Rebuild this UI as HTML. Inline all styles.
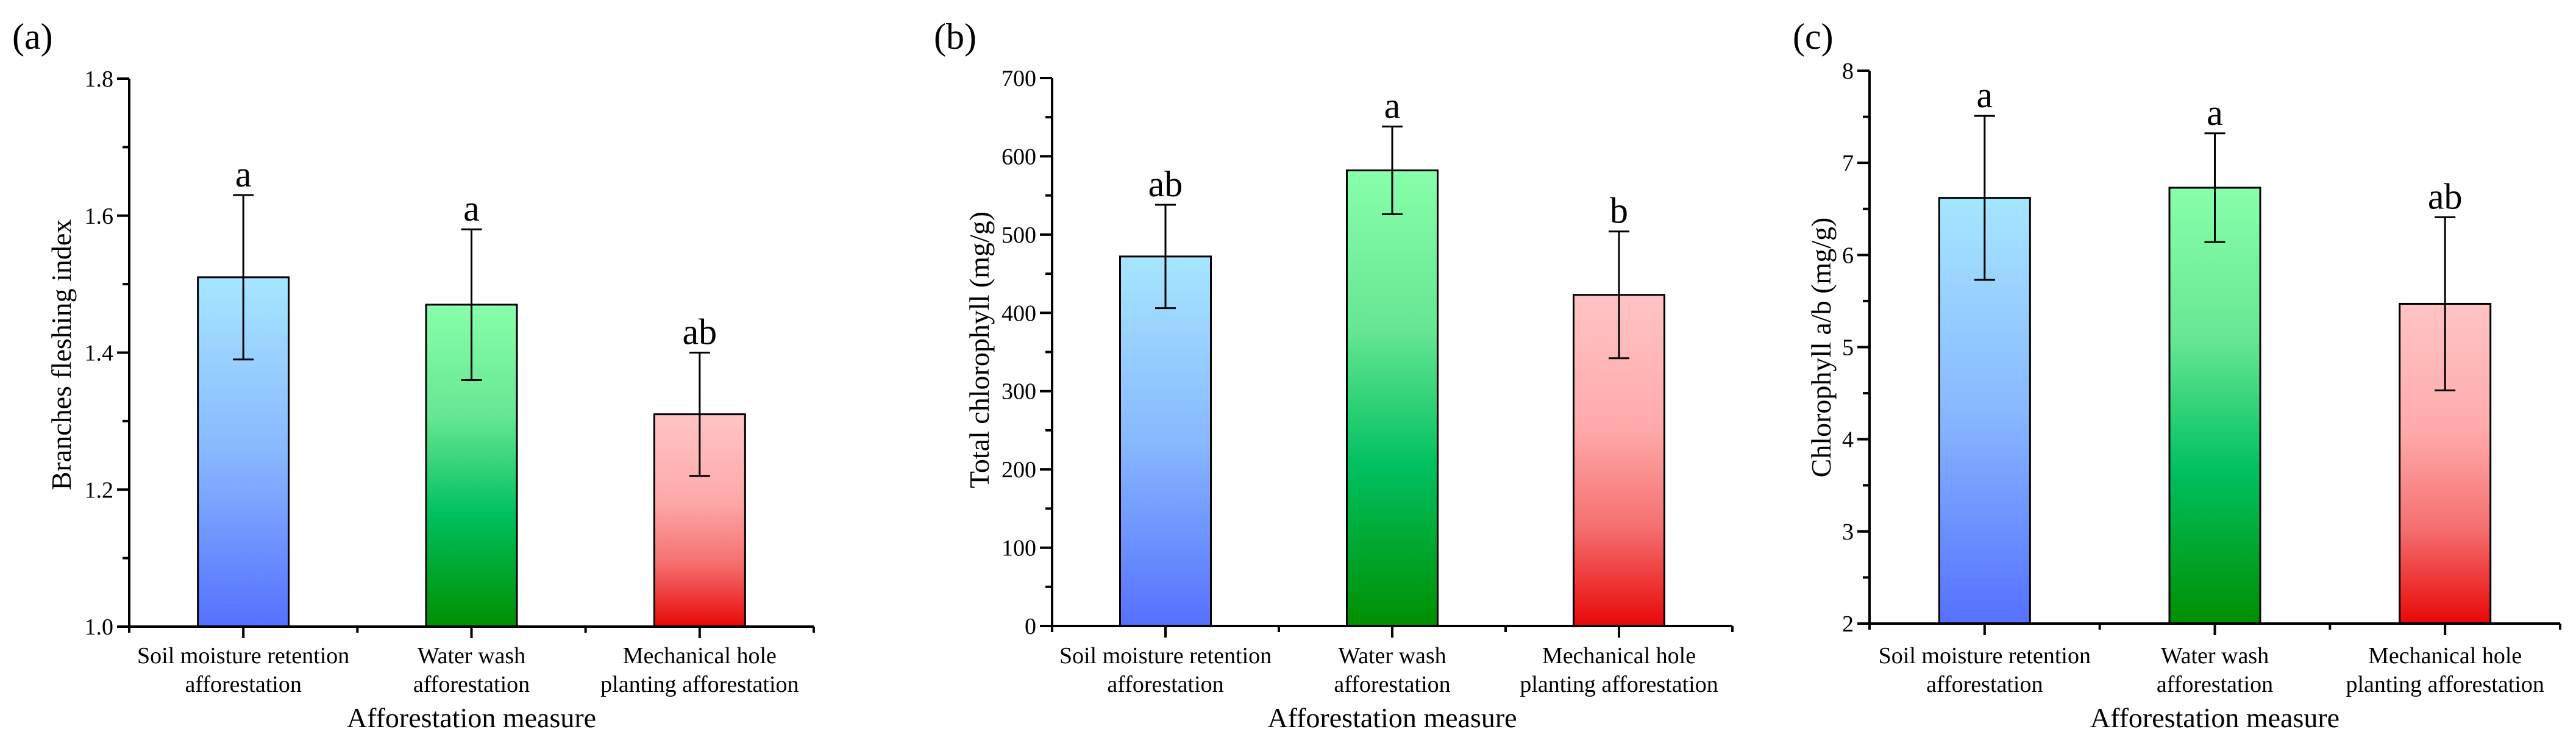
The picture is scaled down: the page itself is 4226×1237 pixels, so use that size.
<!DOCTYPE html>
<html><head><meta charset="utf-8">
<style>
html,body{margin:0;padding:0;background:#fff;}
svg{display:block;font-family:"Liberation Serif","Times New Roman",serif;}
</style></head>
<body>
<svg id="fig" width="4226" height="1237" viewBox="0 0 4226 1237" xmlns="http://www.w3.org/2000/svg">
<defs>
<linearGradient id="gBlue" x1="0" y1="0" x2="0" y2="1"><stop offset="0" stop-color="#a6e6ff"/><stop offset="0.5" stop-color="#88b8ff"/><stop offset="1" stop-color="#5570ff"/></linearGradient>
<linearGradient id="gGreen" x1="0" y1="0" x2="0" y2="1"><stop offset="0" stop-color="#88ffaa"/><stop offset="0.35" stop-color="#66e693"/><stop offset="0.65" stop-color="#00c060"/><stop offset="1" stop-color="#008f00"/></linearGradient>
<linearGradient id="gRed" x1="0" y1="0" x2="0" y2="1"><stop offset="0" stop-color="#ffc4c4"/><stop offset="0.4" stop-color="#ffaaaa"/><stop offset="0.7" stop-color="#f57070"/><stop offset="1" stop-color="#e80808"/></linearGradient>
</defs>
</svg>
<script>
const categories = [["Soil moisture retention","afforestation"],["Water wash","afforestation"],["Mechanical hole","planting afforestation"]];
const valuesA = [1.51, 1.47, 1.31];
const errA = [0.12, 0.11, 0.09];
const lettersA = ["a","a","ab"];
const ticksA = ["1.0","1.2","1.4","1.6","1.8"];
const valuesB = [472, 582, 423];
const errB = [66, 56, 81];
const lettersB = ["ab","a","b"];
const ticksB = ["0","100","200","300","400","500","600","700"];
const valuesC = [6.62, 6.73, 5.47];
const errC = [0.89, 0.59, 0.94];
const lettersC = ["a","a","ab"];
const ticksC = ["2","3","4","5","6","7","8"];

const svg = document.getElementById('fig');
const NS = 'http://www.w3.org/2000/svg';
const fills = ['url(#gBlue)','url(#gGreen)','url(#gRed)'];
function mk(tag, attrs, parent){ const e=document.createElementNS(NS,tag); for(const k in attrs) e.setAttribute(k,attrs[k]); (parent||svg).appendChild(e); return e; }

function panel(cfg){
  const g = mk('g',{});
  
  
  const {x0,x1,yTop,yBot,min,max,minor} = cfg;
  const y = v => yBot - (v-min)/(max-min)*(yBot-yTop);
  const step = (x1-x0)/3;
  const cx = i => x0 + step*(i+0.5);
  const bw = 149;
  // bars
  cfg.values.forEach((v,i)=>{
    const r = mk('rect',{x:cx(i)-bw/2,y:y(v),width:bw,height:yBot-y(v),fill:fills[i],stroke:'#000','stroke-width':3},g);
    
    
    const hi=y(v+cfg.err[i]), lo=y(v-cfg.err[i]);
    const eb = mk('path',{d:`M${cx(i)},${hi}V${lo}M${cx(i)-17},${hi}H${cx(i)+17}M${cx(i)-17},${lo}H${cx(i)+17}`,stroke:'#000','stroke-width':3,fill:'none'},g);
    
    
    const t = mk('text',{x:cx(i),y:hi-14,'text-anchor':'middle','font-size':60},g);
    t.textContent = cfg.letters[i];
    
    
  });
  // axes
  const ax = mk('path',{d:`M${x0},${yTop}V${yBot}H${x1}`,stroke:'#000','stroke-width':4,fill:'none'},g);
  
  
  let d='';
  for(let v=min; v<=max+1e-9; v+=minor){
    const major = Math.abs(((v-min)/(minor*2)) - Math.round((v-min)/(minor*2)))<1e-6;
    d += `M${x0},${y(v)}H${x0-(major?20:11)}`;
  }
  for(let i=0;i<3;i++) d += `M${cx(i)},${yBot}V${yBot+19}`;
  for(let i=0;i<=3;i++) d += `M${x0+step*i},${yBot}V${yBot+10}`;
  mk('path',{d,stroke:'#000','stroke-width':4,fill:'none'},g);
  cfg.ticks.forEach(s=>{
    const t = mk('text',{x:x0-26,y:y(parseFloat(s))+13,'text-anchor':'end','font-size':38},g);
    t.textContent = s;
    
    
  });
  categories.forEach((c,i)=>{
    c.forEach((line,j)=>{
      const t = mk('text',{x:cx(i),y:1088+j*47,'text-anchor':'middle','font-size':38},g);
      t.textContent = line;
      
      
    });
  });
  const xt = mk('text',{x:(x0+x1)/2,y:1193,'text-anchor':'middle','font-size':46},g);
  xt.textContent = 'Afforestation measure';
  
  
  const yt = mk('text',{x:0,y:0,'text-anchor':'middle','font-size':46,transform:`translate(${cfg.ytx},${cfg.yty}) rotate(-90)`},g);
  yt.textContent = cfg.ytitle;
  
  
  const pl = mk('text',{x:cfg.plx,y:80,'font-size':60},g);
  pl.textContent = '('+cfg.id+')';
  
  
}

panel({id:'a',x0:212,x1:1335,yTop:129,yBot:1028,min:1.0,max:1.8,minor:0.1,values:valuesA,err:errA,letters:lettersA,ticks:ticksA,ytitle:'Branches fleshing index',ytx:116,yty:582,plx:20});
panel({id:'b',x0:1726,x1:2842,yTop:128,yBot:1027,min:0,max:700,minor:50,values:valuesB,err:errB,letters:lettersB,ticks:ticksB,ytitle:'Total chlorophyll (mg/g)',ytx:1622,yty:574,plx:1532});
panel({id:'c',x0:3067,x1:4200,yTop:116,yBot:1023,min:2,max:8,minor:0.5,values:valuesC,err:errC,letters:lettersC,ticks:ticksC,ytitle:'Chlorophyll a/b (mg/g)',ytx:3003,yty:570,plx:2941});
</script>
</body></html>
